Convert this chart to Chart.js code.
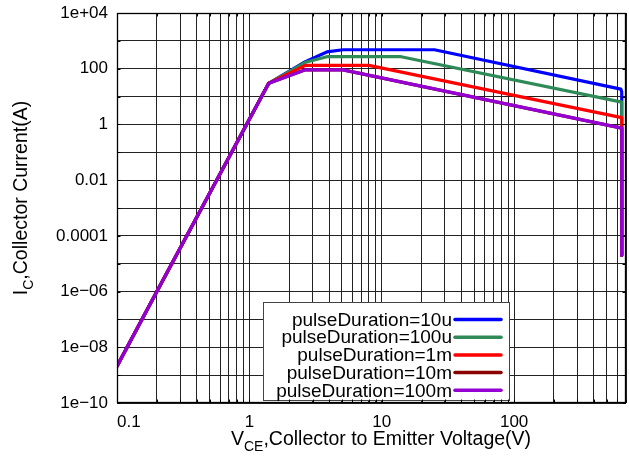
<!DOCTYPE html>
<html>
<head>
<meta charset="utf-8">
<script src="https://cdn.jsdelivr.net/npm/chart.js@4/dist/chart.umd.min.js"></script>
<style>
  html, body { margin: 0; padding: 0; background: #fff; }
  #wrap { width: 629px; height: 463px; position: relative; }
</style>
</head>
<body>
<div id="wrap"><canvas id="soa"></canvas></div>
<script>
// Safe operating area: collector current vs. collector-emitter voltage
const seriesNames  = ['pulseDuration=10u', 'pulseDuration=100u', 'pulseDuration=1m', 'pulseDuration=10m', 'pulseDuration=100m'];
const seriesColors = ['#0000ff', '#2e8b57', '#ff0000', '#8b0000', '#9400d3'];

// shared low-voltage rise (V, A)
const riseV = [0.1, 0.2, 1.4];
const riseI = [2.1e-9, 1e-6, 30];

// per-pulse-width limits after the rise (V, A)
const v10u   = [2.65, 3.85, 5.1, 25, 640, 650, 650];
const i10u   = [180, 400, 480, 480, 18.5, 15, 2e-5];
const v100u  = [2.65, 3.85, 14, 650, 650];
const i100u  = [170, 270, 270, 6.3, 2e-5];
const v1m    = [2.65, 8, 650, 650];
const i1m    = [132, 132, 1.75, 2e-5];
const v10m   = [2.65, 5.1, 650, 650];
const i10m   = [91, 91, 0.74, 2e-5];
const v100m  = [2.65, 5.1, 650, 650];
const i100m  = [91, 91, 0.74, 2e-5];

const seriesV = [v10u, v100u, v1m, v10m, v100m];
const seriesI = [i10u, i100u, i1m, i10m, i100m];

// axis ticks
const xTickValues = [0.1, 1, 10, 100];
const xTickLabels = ['0.1', '1', '10', '100'];
const yTickValues = [1e4, 100, 1, 0.01, 1e-4, 1e-6, 1e-8, 1e-10];
const yTickLabels = ['1e+04', '100', '1', '0.01', '0.0001', '1e\u221206', '1e\u221208', '1e\u221210'];

const X_MIN = 0.1, X_MAX = 700, Y_MIN = 1e-10, Y_MAX = 1e4;

// grid positions: 1..9 per decade on x, every decade on y
const xGrid = [];
for (let e = -1; e <= 2; e++) {
  for (let m = 1; m <= 9; m++) {
    const v = +(m * Math.pow(10, e)).toPrecision(6);
    if (v >= X_MIN && v <= X_MAX) xGrid.push(v);
  }
}
const yGrid = [];
for (let e = -10; e <= 4; e++) yGrid.push(+Math.pow(10, e).toPrecision(6));

function labelFor(value, values, labels) {
  for (let k = 0; k < values.length; k++) {
    if (Math.abs(Math.log10(value) - Math.log10(values[k])) < 1e-6) return labels[k];
  }
  return '';
}

const FONT = '"Liberation Sans", Arial, Helvetica, sans-serif';
Chart.defaults.font.family = FONT;
Chart.defaults.color = '#000';

const datasets = seriesNames.map((name, s) => ({
  label: name,
  data: riseV.map((v, k) => ({ x: v, y: riseI[k] }))
        .concat(seriesV[s].map((v, k) => ({ x: v, y: seriesI[s][k] }))),
  borderColor: seriesColors[s],
  backgroundColor: seriesColors[s],
  borderWidth: 3.2,
  borderJoinStyle: 'round',
  borderCapStyle: 'round',
  showLine: true,
  pointRadius: 0,
  fill: false,
  tension: 0,
  // later series are painted over earlier ones
  order: seriesNames.length - s
}));

// frame, inward ticks, legend and axis titles
const decorations = {
  id: 'decorations',
  afterDraw(chart) {
    const { ctx, chartArea: a, scales } = chart;
    const L = Math.round(a.left) + 0.5, R = Math.round(a.right) - 0.5;
    const T = Math.round(a.top) + 0.5, B = Math.round(a.bottom) - 0.5;
    ctx.save();

    // legend
    const lx0 = 263.5, ly0 = 302.5, lx1 = 509.5, ly1 = 400.5;
    ctx.fillStyle = '#fff';
    ctx.fillRect(lx0, ly0, lx1 - lx0, ly1 - ly0);
    ctx.strokeStyle = '#444';
    ctx.lineWidth = 1;
    ctx.strokeRect(lx0, ly0, lx1 - lx0, ly1 - ly0);
    ctx.font = '19px ' + FONT;
    ctx.textAlign = 'right';
    ctx.textBaseline = 'middle';
    seriesNames.forEach((name, s) => {
      const y = 319.5 + s * 17.7;
      ctx.fillStyle = '#000';
      ctx.fillText(name, 452, y + 1);
      ctx.strokeStyle = seriesColors[s];
      ctx.lineWidth = 3.5;
      ctx.lineCap = 'round';
      ctx.beginPath();
      ctx.moveTo(455, y);
      ctx.lineTo(501, y);
      ctx.stroke();
    });

    // inward tick marks on all four sides
    ctx.strokeStyle = '#000';
    ctx.lineWidth = 1;
    ctx.lineCap = 'butt';
    ctx.beginPath();
    xGrid.forEach(v => {
      const px = Math.round(scales.x.getPixelForValue(v)) + 0.5;
      ctx.moveTo(px, B); ctx.lineTo(px, B - 3);
      ctx.moveTo(px, T); ctx.lineTo(px, T + 3);
    });
    yGrid.forEach(v => {
      const py = Math.round(scales.y.getPixelForValue(v)) + 0.5;
      ctx.moveTo(L, py); ctx.lineTo(L + 3, py);
      ctx.moveTo(R, py); ctx.lineTo(R - 3, py);
    });
    ctx.stroke();

    // plot frame
    ctx.lineWidth = 1.3;
    ctx.strokeRect(L, T, R - L, B - T);

    // axis titles with subscripts
    const drawTitle = (parts, cx, cy, rotate) => {
      ctx.save();
      ctx.translate(cx, cy);
      if (rotate) ctx.rotate(-Math.PI / 2);
      ctx.textAlign = 'left';
      ctx.textBaseline = 'alphabetic';
      ctx.fillStyle = '#000';
      let total = 0;
      parts.forEach(p => { ctx.font = p.size + 'px ' + FONT; total += ctx.measureText(p.text).width; });
      let x = -total / 2;
      parts.forEach(p => {
        ctx.font = p.size + 'px ' + FONT;
        ctx.fillText(p.text, x, p.dy);
        x += ctx.measureText(p.text).width;
      });
      ctx.restore();
    };
    drawTitle([
      { text: 'V', size: 19.5, dy: 0 },
      { text: 'CE', size: 14, dy: 6 },
      { text: ',Collector to Emitter Voltage(V)', size: 19.5, dy: 0 }
    ], 381, 445, false);
    drawTitle([
      { text: 'I', size: 19.5, dy: 0 },
      { text: 'C', size: 14, dy: 6 },
      { text: ',Collector Current(A)', size: 19.5, dy: 0 }
    ], 27, 198, true);

    ctx.restore();
  }
};

new Chart(document.getElementById('soa'), {
  type: 'scatter',
  data: { datasets },
  options: {
    responsive: true,
    maintainAspectRatio: false,
    animation: false,
    layout: { padding: { top: 13, right: 3, left: 0, bottom: 0 } },
    plugins: { legend: { display: false }, tooltip: { enabled: false } },
    scales: {
      x: {
        type: 'logarithmic',
        min: X_MIN, max: X_MAX,
        afterBuildTicks: scale => { scale.ticks = xGrid.map(v => ({ value: v })); },
        afterFit: scale => { scale.height = 60; scale.paddingLeft = 0; scale.paddingRight = 0; },
        ticks: {
          autoSkip: false, maxRotation: 0, align: 'inner', padding: 9,
          font: { size: 17 }, color: '#000',
          callback: value => labelFor(value, xTickValues, xTickLabels)
        },
        grid: { color: '#222', lineWidth: 1, drawTicks: false },
        border: { display: false }
      },
      y: {
        type: 'logarithmic',
        min: Y_MIN, max: Y_MAX,
        afterBuildTicks: scale => { scale.ticks = yGrid.map(v => ({ value: v })); },
        afterFit: scale => { scale.width = 117; scale.paddingTop = 0; scale.paddingBottom = 0; },
        ticks: {
          autoSkip: false, padding: 9,
          font: { size: 17 }, color: '#000',
          callback: value => labelFor(value, yTickValues, yTickLabels)
        },
        grid: { color: '#222', lineWidth: 1, drawTicks: false },
        border: { display: false }
      }
    }
  },
  plugins: [decorations]
});
</script>
</body>
</html>
